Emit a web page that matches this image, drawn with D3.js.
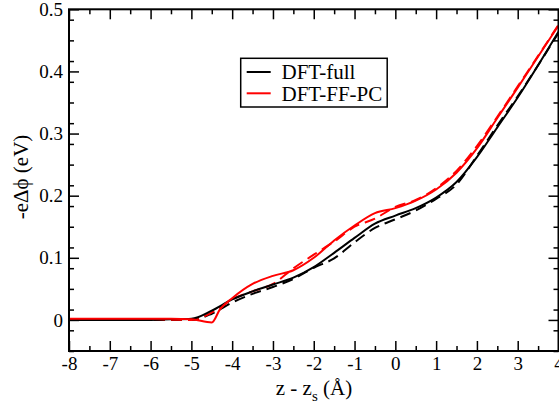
<!DOCTYPE html>
<html>
<head>
<meta charset="utf-8">
<script src="https://cdnjs.cloudflare.com/ajax/libs/d3/7.8.5/d3.min.js"></script>
<style>
  body { margin: 0; background: #fff; }
  svg text { font-family: "Liberation Serif", "DejaVu Serif", "Times New Roman", Times, serif; fill: #000; }
  .axis path { display: none; }
  .axis line { stroke: #000; stroke-width: 1.5; }
</style>
</head>
<body>
<svg id="chart" width="559" height="412"></svg>
<script>
// z - z_s (Å)
var zFull   = [-8, -7, -6, -5.5, -5, -4.5, -4, -3.5, -3, -2.5, -2, -1.5, -1, -0.5, 0, 0.5, 1, 1.5, 2, 2.5, 3, 3.5, 4];
var fullSolid = [0, 0, 0, 0.001, 0.002, 0.015, 0.033, 0.046, 0.057, 0.068, 0.085, 0.108, 0.132, 0.155, 0.168, 0.18, 0.197, 0.222, 0.262, 0.31, 0.358, 0.41, 0.464];
var fullDash  = [0, 0, 0, 0, 0, 0.01, 0.028, 0.042, 0.053, 0.066, 0.084, 0.099, 0.125, 0.148, 0.162, 0.176, 0.195, 0.218, 0.264, 0.313, 0.36, 0.41, 0.462];

var zPC     = [-8, -7, -6, -5.5, -5, -4.5, -4.3, -4, -3.5, -3, -2.5, -2, -1.5, -1, -0.5, 0, 0.5, 1, 1.5, 2, 2.5, 3, 3.5, 4];
var pcSolid = [0.002, 0.002, 0.002, 0.002, 0.001, -0.004, 0.017, 0.035, 0.058, 0.071, 0.08, 0.1, 0.128, 0.152, 0.172, 0.18, 0.192, 0.21, 0.237, 0.276, 0.325, 0.374, 0.424, 0.474];
var pcDash  = [0, 0, 0, 0, 0, 0.012, 0.02, 0.033, 0.046, 0.058, 0.083, 0.105, 0.126, 0.15, 0.163, 0.182, 0.193, 0.212, 0.24, 0.28, 0.327, 0.376, 0.425, 0.475];

var xMajor = [-8, -7, -6, -5, -4, -3, -2, -1, 0, 1, 2, 3, 4];
var yMajor = [0, 0.1, 0.2, 0.3, 0.4, 0.5];
var legendNames = ["DFT-full", "DFT-FF-PC"];

(function() {
  var svg = d3.select("#chart");
  var x0 = 69, x1 = 558.5, y0 = 9.3, y1 = 351;
  var serif = '"Liberation Serif", "DejaVu Serif", "Times New Roman", Times, serif';

  var x = d3.scaleLinear().domain([-8, 4]).range([x0, x1]);
  var y = d3.scaleLinear().domain([-0.05, 0.5]).range([y1, y0]);

  var xMinor = d3.range(-7.5, 4, 1);
  var yMinor = d3.range(-0.05, 0.5, 0.1 / 3).filter(function(v) {
    return Math.abs(v * 10 - Math.round(v * 10)) > 0.01;
  }).map(function(v) { return +v.toFixed(4); });

  function fmtX(d) { return String(d); }
  function fmtY(d) { return d === 0 ? "0" : d.toFixed(1); }

  function axis(gen, tx, ty, labelled) {
    var g = svg.append("g").attr("class", "axis")
      .attr("transform", "translate(" + tx + "," + ty + ")")
      .call(gen);
    g.attr("font-family", serif).attr("font-size", 19);
    if (!labelled) g.selectAll("text").remove();
    return g;
  }

  // major ticks with labels
  axis(d3.axisBottom(x).tickValues(xMajor).tickSize(-10).tickPadding(6).tickFormat(fmtX), 0, y1, true);
  axis(d3.axisLeft(y).tickValues(yMajor).tickSize(-10).tickPadding(6).tickFormat(fmtY), x0, 0, true);
  // mirrored ticks
  axis(d3.axisTop(x).tickValues(xMajor).tickSize(-10), 0, y0, false);
  axis(d3.axisRight(y).tickValues(yMajor).tickSize(-10), x1, 0, false);
  // minor ticks
  axis(d3.axisBottom(x).tickValues(xMinor).tickSize(-5), 0, y1, false);
  axis(d3.axisTop(x).tickValues(xMinor).tickSize(-5), 0, y0, false);
  axis(d3.axisLeft(y).tickValues(yMinor).tickSize(-5), x0, 0, false);
  axis(d3.axisRight(y).tickValues(yMinor).tickSize(-5), x1, 0, false);

  // curves
  svg.append("clipPath").attr("id", "clip").append("rect")
    .attr("x", x0).attr("y", y0).attr("width", x1 - x0).attr("height", y1 - y0);

  var line = d3.line().curve(d3.curveMonotoneX)
    .x(function(d) { return x(d[0]); })
    .y(function(d) { return y(d[1]); });

  var series = [
    { z: zFull, v: fullDash,  color: "#000", dash: "11,6" },
    { z: zPC,   v: pcDash,    color: "#f00", dash: "11,6" },
    { z: zFull, v: fullSolid, color: "#000", dash: null },
    { z: zPC,   v: pcSolid,   color: "#f00", dash: null }
  ];
  var g = svg.append("g").attr("clip-path", "url(#clip)");
  series.forEach(function(s) {
    g.append("path")
      .datum(d3.zip(s.z, s.v))
      .attr("d", line)
      .attr("fill", "none")
      .attr("stroke", s.color)
      .attr("stroke-width", 2)
      .attr("stroke-dasharray", s.dash);
  });

  // frame
  svg.append("rect")
    .attr("x", x0).attr("y", y0).attr("width", x1 - x0).attr("height", y1 - y0)
    .attr("fill", "none").attr("stroke", "#000").attr("stroke-width", 2);

  // legend
  var lg = svg.append("g").attr("font-family", serif);
  lg.append("rect").attr("x", 240.7).attr("y", 58.3).attr("width", 146.5).attr("height", 48.7)
    .attr("fill", "#fff").attr("stroke", "#000").attr("stroke-width", 1.5);
  legendNames.forEach(function(name, i) {
    var yy = 72 + i * 21.3;
    lg.append("line").attr("x1", 246.7).attr("x2", 270.7).attr("y1", yy).attr("y2", yy)
      .attr("stroke", i === 0 ? "#000" : "#f00").attr("stroke-width", 2);
    lg.append("text").attr("x", 281.5).attr("y", yy).attr("dy", "0.35em")
      .attr("font-family", serif).style("font-size", "21px").text(name);
  });

  // axis titles
  var xt = svg.append("text").attr("x", 314).attr("y", 395).attr("text-anchor", "middle")
    .attr("font-family", serif).style("font-size", "21px");
  xt.append("tspan").text("z - z");
  xt.append("tspan").attr("dy", 6).style("font-size", "15px").text("s");
  xt.append("tspan").attr("dy", -6).text(" (Å)");

  svg.append("text")
    .attr("transform", "translate(28,177) rotate(-90)")
    .attr("text-anchor", "middle")
    .attr("font-family", serif)
    .style("font-size", "21px")
    .text("-eΔϕ  (eV)");
})();
</script>
</body>
</html>
